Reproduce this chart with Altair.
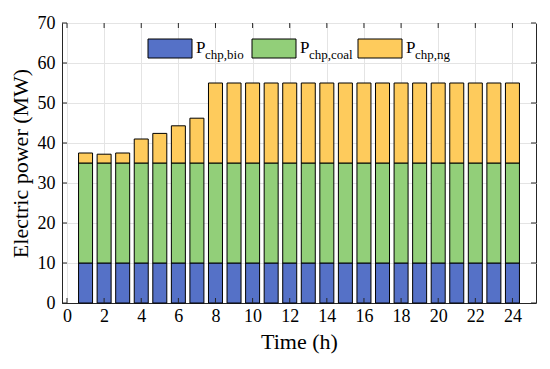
import altair as alt
import pandas as pd

hours = list(range(1, 25))
bio = [10] * 24
coal = [25] * 24
ng = [2.5, 2.2, 2.5, 6.0, 7.4, 9.3, 11.2] + [20] * 17
series = ["bio", "coal", "ng"]
colors = ["#5571C7", "#92CF79", "#FECB5C"]
x_ticks = list(range(0, 25, 2))
y_ticks = list(range(0, 71, 10))

rows = []
for i, h in enumerate(hours):
    for k, (s, v) in enumerate(zip(series, [bio[i], coal[i], ng[i]])):
        rows.append({"hour": h, "series": s, "value": v, "order": k})
df = pd.DataFrame(rows)

FONT = "Liberation Serif"
W, H = 474, 280
FRAME = "#262626"

xscale = alt.Scale(domain=[0, 25], nice=False)
yscale = alt.Scale(domain=[0, 70], nice=False)
xaxis = alt.Axis(values=x_ticks, title="Time (h)", grid=True, labelFlush=False, labelOverlap=False)
yaxis = alt.Axis(values=y_ticks, title="Electric power (MW)", grid=True, labelFlush=False,
                 labelOverlap=False)

bars = alt.Chart(df).mark_bar(size=14, stroke="black", strokeWidth=1).encode(
    x=alt.X("hour:Q", scale=xscale, axis=xaxis, title="Time (h)"),
    y=alt.Y("sum(value):Q", stack="zero", scale=yscale, axis=yaxis, title="Electric power (MW)"),
    color=alt.Color("series:N", scale=alt.Scale(domain=series, range=colors), legend=None),
    order=alt.Order("order:Q"),
)

xt = pd.DataFrame({"v": x_ticks})
yt = pd.DataFrame({"v": y_ticks})
tick_style = dict(color=FRAME, strokeWidth=1)
ticks = [
    alt.Chart(yt).mark_rule(**tick_style).encode(
        y=alt.Y("v:Q", scale=yscale, axis=yaxis, title="Electric power (MW)"),
        x=alt.value(0), x2=alt.value(5)),
    alt.Chart(yt).mark_rule(**tick_style).encode(
        y=alt.Y("v:Q", scale=yscale, axis=yaxis, title="Electric power (MW)"),
        x=alt.value(W - 5), x2=alt.value(W)),
    alt.Chart(xt).mark_rule(**tick_style).encode(
        x=alt.X("v:Q", scale=xscale, axis=xaxis, title="Time (h)"),
        y=alt.value(H - 5), y2=alt.value(H)),
    alt.Chart(xt).mark_rule(**tick_style).encode(
        x=alt.X("v:Q", scale=xscale, axis=xaxis, title="Time (h)"),
        y=alt.value(0), y2=alt.value(5)),
]

layers = [bars] + ticks
legend_x = [86, 190, 296]
for s, c, x0 in zip(series, colors, legend_x):
    sub = "chp," + s
    layers.append(alt.Chart(pd.DataFrame({"s": [s]})).mark_rect(fill=c, stroke="black", strokeWidth=1).encode(
        x=alt.value(x0), x2=alt.value(x0 + 44), y=alt.value(16), y2=alt.value(35)))
    layers.append(alt.Chart(pd.DataFrame({"t": ["P"]})).mark_text(
        font=FONT, fontSize=17, align="left", baseline="alphabetic", color="black").encode(
        x=alt.value(x0 + 48), y=alt.value(30), text="t:N"))
    layers.append(alt.Chart(pd.DataFrame({"t": [sub]})).mark_text(
        font=FONT, fontSize=13, align="left", baseline="alphabetic", color="black").encode(
        x=alt.value(x0 + 57), y=alt.value(36), text="t:N"))

chart = alt.layer(*layers).properties(
    width=W, height=H,
    autosize=alt.AutoSizeParams(type="none"),
    padding={"left": 54, "top": 15, "right": 6, "bottom": 58},
).configure(font=FONT).configure_view(stroke=FRAME, strokeWidth=1).configure_axis(
    labelFont=FONT, titleFont=FONT, labelFontSize=18, titleFontSize=22,
    labelColor="black", titleColor="black", titleFontWeight="normal",
    domainColor=FRAME, ticks=False, labelOverlap=False,
    gridColor="#e4e4e4",
).configure_axisY(titlePadding=5, labelPadding=7).configure_axisX(titlePadding=6, labelPadding=4)

chart.save("out.html", embed_options={"renderer": "svg", "actions": False})
